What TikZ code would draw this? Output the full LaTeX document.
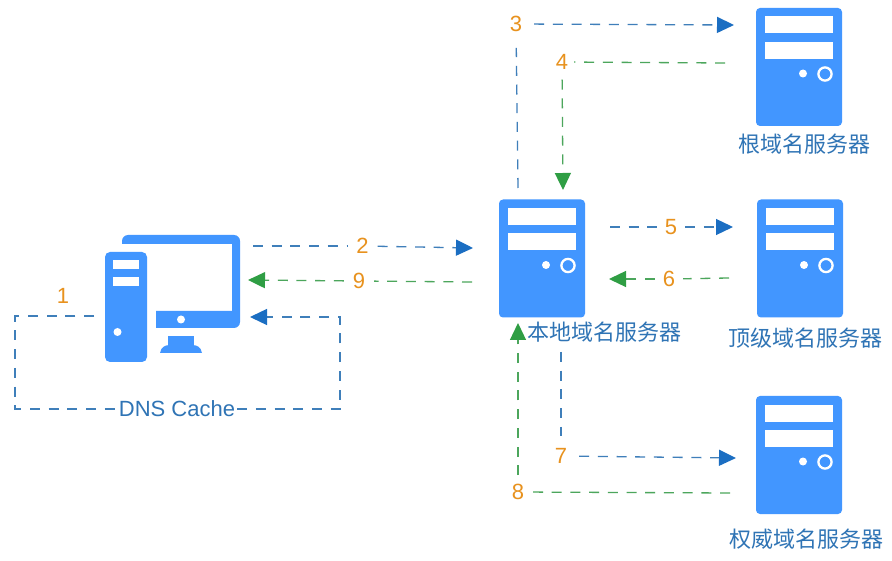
\documentclass[tikz,border=0pt]{standalone}
\usepackage{fontspec}
\setmainfont{Liberation Sans}
\newfontfamily\cjk{Noto Sans CJK SC}
\usetikzlibrary{arrows.meta,calc}
\definecolor{hostblue}{HTML}{4296FF}
\definecolor{lineblue}{HTML}{3F7FBA}
\definecolor{tipblue}{HTML}{1B6EC2}
\definecolor{linegreen}{HTML}{4CA65C}
\definecolor{tipgreen}{HTML}{2F9E44}
\definecolor{numorange}{HTML}{E8921E}
\definecolor{textblue}{HTML}{2F74B5}
\tikzset{
  x=1pt,y=-1pt,
  hostbox/.style={fill=hostblue,rounded corners=4pt,minimum width=86pt,minimum height=118pt,inner sep=0pt,outer sep=0pt},
  bluelink/.style={draw=lineblue,line width=1.3pt,dash pattern=on 10pt off 8.7pt},
  greenlink/.style={draw=linegreen,line width=1.3pt,dash pattern=on 10pt off 8.7pt},
  bluetip/.style={-{Triangle[length=17pt,width=16pt,color=tipblue]}},
  greentip/.style={-{Triangle[length=17pt,width=16pt,color=tipgreen]}},
  num/.style={text=numorange,font=\fontsize{22}{24}\selectfont,inner sep=0pt,outer sep=0pt},
  hostcap/.style={text=textblue,font=\cjk\fontsize{22}{26}\selectfont,inner sep=0pt},
  latincap/.style={text=textblue,font=\fontsize{22}{24}\selectfont,inner sep=2pt},
}
\newcommand{\serverbox}[3]{%
  \node[hostbox] (#1) at (#2,#3) {};
  \fill[white] ($(#1.north west)+(8.5,8.5)$) rectangle ++(68,17);
  \fill[white] ($(#1.north west)+(8.5,34)$) rectangle ++(68,17);
  \fill[white] ($(#1.north west)+(47,65.5)$) circle (4);
  \draw[white,line width=2.3pt] ($(#1.north west)+(69,66)$) circle (6.6);
}
\begin{document}
\begin{tikzpicture}
\useasboundingbox (0,0) rectangle (892,561);
\fill[white] (0,0) rectangle (892,561);

% servers
\serverbox{root}{799}{67}
\serverbox{local}{542}{258.5}
\serverbox{tld}{800}{258.5}
\serverbox{auth}{799}{455}

% computer
\fill[hostblue] (122,244) -- (122,241) [rounded corners=6pt] -- (122,235) -- (240,235) -- (240,328) [sharp corners] -- (156,328) -- (156,311) -- (232,311) -- (232,244) -- cycle;
\fill[hostblue] (168,336.5) rectangle (193.5,346);
\fill[hostblue] (160,353) .. controls (161,347) and (165,345) .. (170,345) -- (192,345) .. controls (197,345) and (201,347) .. (202,353) -- cycle;
\fill[white] (181,319.5) circle (4);
\node[fill=hostblue,rounded corners=5pt,minimum width=42pt,minimum height=110pt,inner sep=0pt] (pc) at (126,307) {};
\fill[white] (113,260.5) rectangle (139,269);
\fill[white] (113,277.5) rectangle (139,286);
\fill[white] (117.5,332) circle (4);

% captions
\node[hostcap] (rootcap) at (804.5,144.5) {根域名服务器};
\node[hostcap] (localcap) at (604.5,332) {本地域名服务器};
\node[hostcap] (tldcap) at (805,338) {顶级域名服务器};
\node[hostcap] (authcap) at (806,539) {权威域名服务器};
\node[latincap] (dns) at (177,409) {DNS Cache};

% step numbers
\node[num] (n1) at (63,296) {1};
\node[num] (n2) at (362.5,246) {2};
\node[num] (n3) at (516,24) {3};
\node[num] (n4) at (562,62) {4};
\node[num] (n5) at (671,227) {5};
\node[num] (n6) at (669,279) {6};
\node[num] (n7) at (561,456) {7};
\node[num] (n8) at (518,492) {8};
\node[num] (n9) at (359,281) {9};

% connector ends
\coordinate (a1) at (94,316);
\coordinate (a1c) at (15,316);
\coordinate (a1d) at (15,409);
\coordinate (a1f) at (340,317);
\coordinate (a1t) at (250,317);
\coordinate (a2) at (253,246);
\coordinate (a2t) at (473,248);
\coordinate (a3) at (518,188);
\coordinate (a3t) at (734,25);
\coordinate (a4) at (725,63);
\coordinate (a4t) at (563,190);
\coordinate (a5) at (610,227);
\coordinate (a5t) at (733,227);
\coordinate (a6) at (729,278);
\coordinate (a6t) at (609,279);
\coordinate (a7) at (561,352);
\coordinate (a7t) at (736,458);
\coordinate (a8) at (730,493);
\coordinate (a8t) at (518,323);
\coordinate (a9) at (472,282);
\coordinate (a9t) at (248,280);

% 1: DNS cache loop
\draw[bluelink] (a1) -- (a1c) -- (a1d) -- (dns);
\draw[bluelink,bluetip] (dns) -| (a1f) -- (a1t);
% 2
\draw[bluelink,shorten >=9pt] (a2) -- (n2);
\draw[bluelink,bluetip,shorten <=9pt] (n2) -- (a2t);
% 9
\draw[greenlink,shorten >=9pt] (a9) -- (n9);
\draw[greenlink,greentip,shorten <=9pt] (n9) -- (a9t);
% 3
\draw[bluelink,shorten >=16pt] (a3) -- (n3);
\draw[bluelink,bluetip,shorten <=12pt] (n3) -- (a3t);
% 4
\draw[greenlink,shorten >=6pt] (a4) -- (n4);
\draw[greenlink,greentip,shorten <=10pt] (n4) -- (a4t);
% 5
\draw[bluelink,shorten >=8pt] (a5) -- (n5);
\draw[bluelink,bluetip,shorten <=8pt] (n5) -- (a5t);
% 6
\draw[greenlink,shorten >=8pt] (a6) -- (n6);
\draw[greenlink,greentip,shorten <=8pt] (n6) -- (a6t);
% 7
\draw[bluelink,shorten >=12pt] (a7) -- (n7);
\draw[bluelink,bluetip,shorten <=12pt] (n7) -- (a7t);
% 8
\draw[greenlink,shorten >=9pt] (a8) -- (n8);
\draw[greenlink,greentip,shorten <=9pt] (n8) -- (a8t);
\end{tikzpicture}
\end{document}
